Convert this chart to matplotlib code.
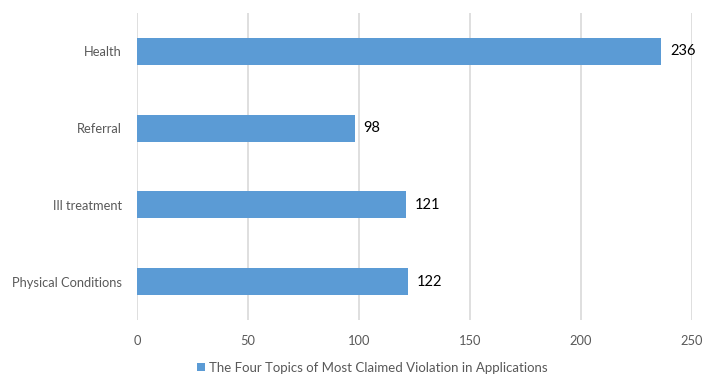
import matplotlib.pyplot as plt
from matplotlib.patches import Patch

# data (top to bottom)
categories = ['Health', 'Referral', 'Ill treatment', 'Physical Conditions']
counts = [236, 98, 121, 122]
series_name = 'The Four Topics of Most Claimed Violation in Applications'
xticks = [0, 50, 100, 150, 200, 250]

bar_color = '#5B9BD5'
grid_color = '#D9D9D9'
text_gray = '#595959'

plt.rcParams['font.family'] = ['Lato', 'DejaVu Sans']

fig = plt.figure(figsize=(7.03, 3.77), dpi=100)
ax = fig.add_axes([0.1949, 0.1512, 0.7895, 0.8143])

ypos = list(range(len(categories)))[::-1]
ax.barh(ypos, counts, height=0.35, color=bar_color, zorder=3)

for y, v in zip(ypos, counts):
    ax.text(v + 4, y, str(v), va='center', ha='left', fontsize=10.5, color='black')

ax.set_xlim(0, 250)
ax.set_ylim(-0.5, len(categories) - 0.5)
ax.set_xticks(xticks)
ax.set_xticklabels([str(t) for t in xticks])
ax.set_yticks(ypos)
ax.set_yticklabels(categories)
ax.tick_params(axis='both', length=0, labelsize=9.3, colors=text_gray)
ax.tick_params(axis='x', pad=11)
ax.tick_params(axis='y', pad=11)

ax.grid(axis='x', color=grid_color, linewidth=1.2, zorder=0)
for s in ax.spines.values():
    s.set_visible(False)

handle = Patch(facecolor=bar_color, edgecolor='none')
fig.legend([handle], [series_name], loc='center', bbox_to_anchor=(0.53, 0.025),
           frameon=False, fontsize=9.5, handlelength=0.6, handleheight=0.6,
           handletextpad=0.3, labelcolor=text_gray)

fig.savefig('out.png', dpi=100)
